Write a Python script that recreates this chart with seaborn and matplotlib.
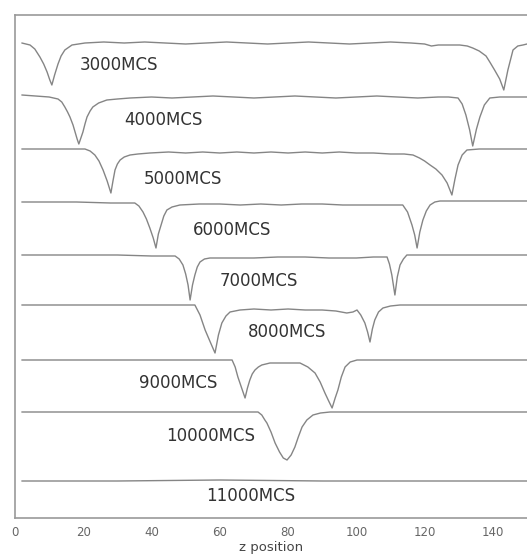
import matplotlib
matplotlib.use("Agg")
import matplotlib.pyplot as plt
import seaborn as sns
import pandas as pd

# profiles: (z position, drop below the curve's baseline)
pts_3000 = [(2.0, 0), (3.2, 1), (4.4, 2), (5.8, 6), (7.3, 14), (8.4, 21), (9.4, 29), (10.2, 37),
            (10.8, 42), (11.6, 32), (12.6, 21), (13.5, 13), (14.6, 7), (16.7, 2), (20.5, 0),
            (26, -1), (32, 0), (38, -1), (44, 0), (50, 1), (56, 0), (62, -1), (68, 0), (74, 1),
            (80, 0), (86, -1), (92, 0), (98, 1), (104, 0), (110, -1), (116, 0), (120, 1), (122, 3),
            (124, 2), (127, 2), (130.3, 2), (132.5, 3), (134.1, 5), (136, 8), (138, 13), (139.1, 19),
            (140.5, 27), (142, 36), (143.2, 47), (144.4, 27), (145.9, 7), (147.3, 3), (148.8, 2),
            (150, 1)]

pts_4000 = [(2, -2), (6, -1), (10, 0), (12.6, 2), (13.7, 5), (14.6, 10), (15.4, 15), (16.1, 20),
            (17.0, 28), (17.6, 35), (18.2, 42), (18.7, 47), (19.3, 41), (19.9, 35), (20.5, 27),
            (21.1, 20), (22.0, 14), (22.8, 10), (24.5, 6), (26.9, 3), (30, 2), (33.7, 1), (40, 0),
            (46, 1), (52, 0), (58, -1), (64, 0), (70, 1), (76, 0), (82, -1), (88, 0), (94, 1),
            (100, 0), (106, -1), (112, 0), (118, 1), (124, 0), (127, 0), (129.8, 1), (131, 7),
            (132.1, 18), (133.2, 33), (134.1, 49), (135.2, 32), (136.2, 20), (137.5, 8), (139.1, 1),
            (142, 0), (146, 0), (150, 0)]

pts_5000 = [(2, 0), (8, 0), (14, 0), (18, 0), (20.5, 0), (22, 2), (23.4, 6), (24.6, 12), (25.8, 21),
            (27.0, 32), (28.1, 44), (28.7, 32), (29.3, 21), (30.0, 15), (30.8, 11), (32, 8),
            (33.7, 6), (36, 5), (39.5, 4), (45, 3), (50, 4), (55, 3), (60, 4), (65, 3), (70, 4),
            (75, 3), (80, 4), (85, 3), (90, 4), (95, 3), (100, 4), (105, 4), (110, 5), (114, 5),
            (116.6, 6), (118.5, 9), (120, 12), (121.6, 16), (123.3, 20), (125.1, 26), (126.6, 34),
            (128.0, 46), (128.9, 30), (129.8, 16), (131, 6), (132.4, 1), (136, 0), (140, 0),
            (145, 0), (150, 0)]

pts_6000 = [(2, 0), (10, 0), (18, 0), (28, 1), (35.1, 1), (36.3, 4), (37.5, 10), (38.5, 17),
            (39.5, 26), (40.5, 36), (41.3, 46), (42.0, 32), (42.8, 23), (43.6, 14), (44.5, 8),
            (46, 5), (48.3, 3), (54, 2), (60, 2), (66, 3), (72, 2), (78, 3), (84, 2), (90, 2),
            (96, 3), (102, 3), (108, 3), (113.6, 3), (115, 10), (116.3, 23), (117.1, 33),
            (117.8, 46), (118.6, 30), (119.5, 18), (120.5, 9), (121.6, 3), (123, 0), (124.5, -1),
            (130, -1), (140, -1), (150, -1)]

pts_7000 = [(2, 0), (10, 0), (20, 0), (30, 0), (40, 1), (46.9, 1), (48.1, 4), (49.2, 10), (50.0, 19),
            (50.7, 30), (51.3, 45), (52.0, 30), (52.7, 20), (53.4, 12), (54.2, 7), (55.5, 4),
            (57.1, 3), (63, 3), (70, 3), (77, 2), (85, 2), (92, 3), (100, 3), (105, 2), (109.0, 2),
            (109.7, 9), (110.4, 20), (111.3, 40), (112.0, 22), (112.8, 10), (113.8, 4), (114.8, 0),
            (120, 0), (130, 0), (140, 0), (150, 0)]

pts_8000 = [(2, 0), (12, 0), (25, 0), (35, 0), (45, 0), (52.7, 0), (54.2, 10), (55.7, 25),
            (57.2, 37), (58.6, 48), (59.6, 30), (60.6, 18), (61.8, 11), (63.0, 7), (65.9, 5),
            (70, 4), (75, 5), (80, 4), (85, 5), (90, 5), (94, 6), (97.2, 8), (99, 7), (100.2, 5),
            (101.3, 10), (102.5, 18), (103.3, 27), (104.0, 37), (104.7, 24), (105.4, 15),
            (106.5, 7), (107.8, 3), (110, 1), (112.8, 0), (120, 0), (130, 0), (140, 0), (150, 0)]

pts_9000 = [(2, 0), (12, 0), (25, 0), (38, 0), (50, 0), (58, 0), (63.6, 0), (64.5, 7), (65.3, 17),
            (66.4, 28), (67.4, 38), (68.1, 28), (68.8, 20), (69.5, 14), (70.3, 10), (71.3, 7),
            (72.3, 5), (74.7, 3), (79, 3), (83.5, 3), (85.8, 7), (87.9, 13), (89.4, 22), (90.8, 33),
            (91.9, 41), (92.9, 48), (93.8, 38), (94.6, 30), (95.6, 17), (96.7, 7), (98.2, 2),
            (100.2, 0), (110, 0), (120, 0), (135, 0), (150, 0)]

pts_10000 = [(2, 0), (15, 0), (30, 0), (45, 0), (60, 0), (68, 0), (71.2, 0), (72.3, 3), (73.2, 8),
             (73.8, 11), (75.0, 20), (76.2, 31), (77.5, 40), (78.6, 46), (79.7, 48), (80.9, 43),
             (82.0, 35), (83.0, 25), (84.1, 15), (85.5, 8), (87.3, 3), (89.5, 1), (92.3, 0),
             (105, 0), (120, 0), (135, 0), (150, 0)]

pts_11000 = [(2, 0), (30, 0), (60, -1), (90, 0), (120, 0), (150, 0)]

steps = ["3000MCS", "4000MCS", "5000MCS", "6000MCS", "7000MCS",
         "8000MCS", "9000MCS", "10000MCS", "11000MCS"]
baselines = [43, 97, 149, 202, 255, 305, 360, 412, 481]
label_z = [19.0, 31.9, 37.8, 52.1, 60.0, 68.2, 36.3, 44.2, 55.9]
label_y = [65, 120, 179, 230, 281, 332, 383, 436, 496]

profiles = [pts_3000, pts_4000, pts_5000, pts_6000, pts_7000,
            pts_8000, pts_9000, pts_10000, pts_11000]

rows = []
for step, base, pts in zip(steps, baselines, profiles):
    for z, d in pts:
        rows.append({"step": step, "z": z, "y": -(base + d)})
df = pd.DataFrame(rows)

sns.set_style("white")

fig = plt.figure(figsize=(5.27, 5.59), dpi=100)
ax = fig.add_axes([15 / 527, 41 / 559, 512 / 527, 503 / 559])

sns.lineplot(data=df, x="z", y="y", units="step", estimator=None,
             color="#858585", linewidth=1.0, sort=False, ax=ax)

for step, lz, ly in zip(steps, label_z, label_y):
    ax.text(lz, -ly, step, ha="left", va="center", fontsize=12,
            color="#333333")

ax.set_xlim(0, 150)
ax.set_ylim(-518, -15)
ax.set_xticks([0, 20, 40, 60, 80, 100, 120, 140])
ax.set_yticks([])
ax.tick_params(axis="x", length=0, pad=6, labelsize=8.5, colors="#666666")
ax.set_xlabel("z position", fontsize=9.5, color="#444444", labelpad=1)
ax.set_ylabel("")
for side in ["left", "top", "bottom"]:
    ax.spines[side].set_color("#999999")
    ax.spines[side].set_linewidth(1.2)
ax.spines["right"].set_visible(False)

plt.savefig("out.png", dpi=100)
plt.close()
